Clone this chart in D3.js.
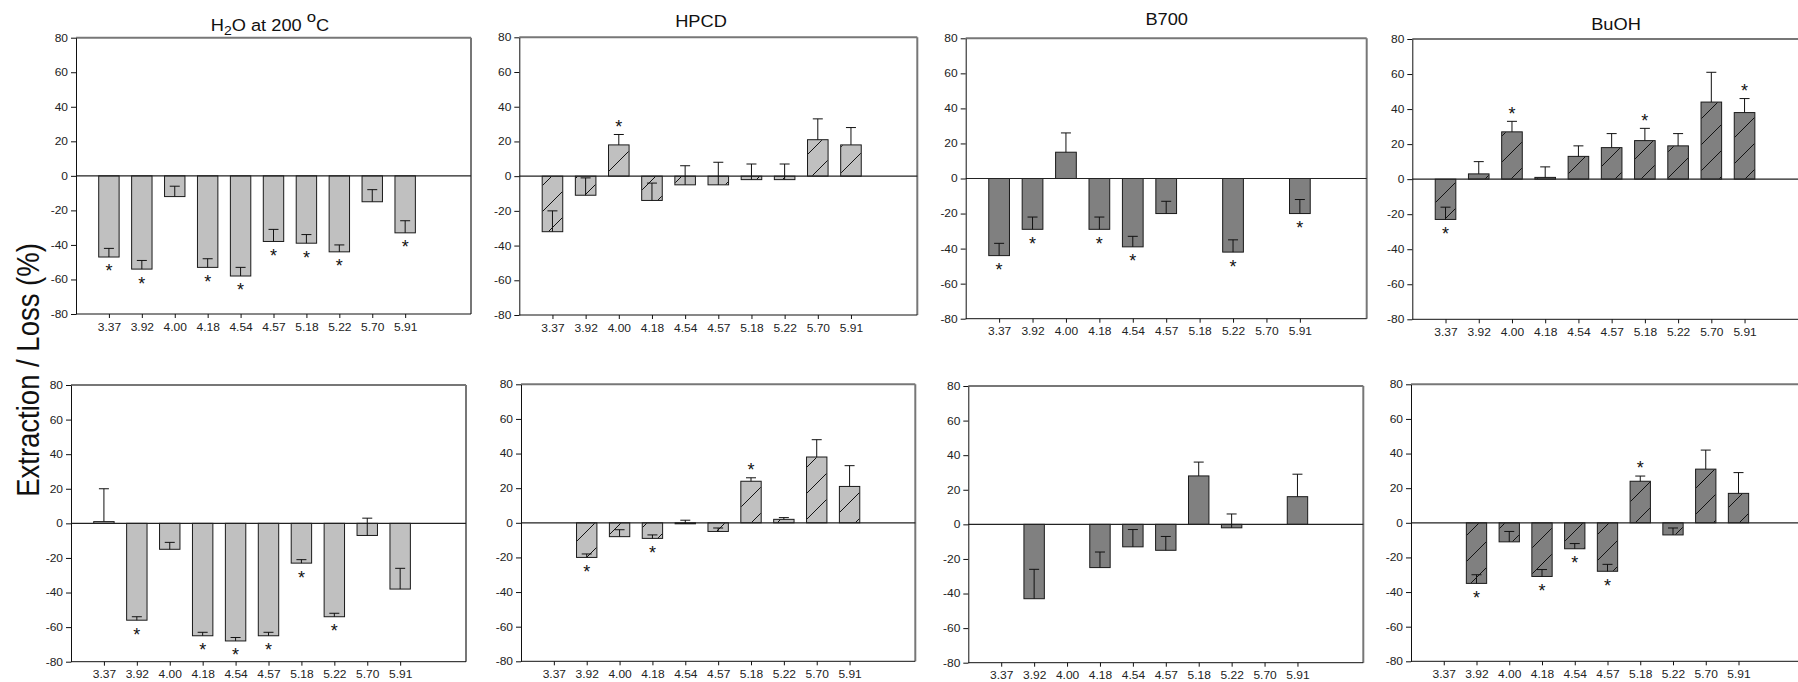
<!DOCTYPE html>
<html><head><meta charset="utf-8">
<script src="https://cdn.jsdelivr.net/npm/d3@7"></script>
<style>
body{margin:0;background:#fff;overflow:hidden;}
svg{display:block;font-family:"Liberation Sans",Arial,sans-serif;}
</style></head><body>
<svg id="chart" width="1798" height="682"></svg>
<script>
// ---------------- data ----------------
const categories = ["3.37","3.92","4.00","4.18","4.54","4.57","5.18","5.22","5.70","5.91"];
const yTicks = [-80,-60,-40,-20,0,20,40,60,80];
const titles = ["H2O at 200 oC","HPCD","B700","BuOH"];

// top row
const h2oTop     = [-47,-54,-12,-53,-58,-38,-39,-44,-15,-33];
const h2oTopErr  = [5,5,6,5,5,7,5,4,7,7];
const h2oTopSig  = [1,1,0,1,1,1,1,1,0,1];

const hpcdTop    = [-32,-11,18,-14,-5,-5,-2,-2,21,18];
const hpcdTopErr = [12,10,6,10,11,13,9,9,12,10];
const hpcdTopSig = [0,0,1,0,0,0,0,0,0,0];

const b700Top    = [-44,-29,15,-29,-39,-20,null,-42,null,-20];
const b700TopErr = [7,7,11,7,6,7,null,7,null,8];
const b700TopSig = [1,1,0,1,1,0,0,1,0,1];

const buohTop    = [-23,3,27,1,13,18,22,19,44,38];
const buohTopErr = [7,7,6,6,6,8,7,7,17,8];
const buohTopSig = [1,0,1,0,0,0,1,0,0,1];

// bottom row
const h2oBot     = [1,-56,-15,-65,-68,-65,-23,-54,-7,-38];
const h2oBotErr  = [19,2,4,2,2,2,2,2,10,12];
const h2oBotSig  = [0,1,0,1,1,1,1,1,0,0];

const hpcdBot    = [null,-20,-8,-9,-0.5,-5,24,2,38,21];
const hpcdBotErr = [null,2,4,2,2,2,2,1,10,12];
const hpcdBotSig = [0,1,0,1,0,0,1,0,0,0];

const b700Bot    = [null,-43,null,-25,-13,-15,28,-2,null,16];
const b700BotErr = [null,17,null,9,10,8,8,8,null,13];
const b700BotSig = [0,0,0,0,0,0,0,0,0,0];

const buohBot    = [null,-35,-11,-31,-15,-28,24,-7,31,17];
const buohBotErr = [null,5,6,4,3,4,3,4,11,12];
const buohBotSig = [0,1,0,1,1,1,1,0,0,0];

// ---------------- layout ----------------
const LIGHT = "#c0c0c0", DARK = "#808080";
const SX = 1.12; // horizontal stretch of the original's lettering
const panels = [
  {vals:h2oTop,  err:h2oTopErr,  sig:h2oTopSig,  fill:LIGHT, hatch:false, L:76,    R:471,    T:37.7, B:314,   title:0, tx:270,    ty:30.5},
  {vals:hpcdTop, err:hpcdTopErr, sig:hpcdTopSig, fill:LIGHT, hatch:true,  L:519.3, R:917.3,  T:37.3, B:315,   title:1, tx:701,    ty:26.5},
  {vals:b700Top, err:b700TopErr, sig:b700TopSig, fill:DARK,  hatch:false, L:965.7, R:1366.7, T:38.3, B:318.7, title:2, tx:1166.7, ty:25},
  {vals:buohTop, err:buohTopErr, sig:buohTopSig, fill:DARK,  hatch:true,  L:1412.3,R:1811,   T:39,   B:319.3, title:3, tx:1616,   ty:30},
  {vals:h2oBot,  err:h2oBotErr,  sig:h2oBotSig,  fill:LIGHT, hatch:false, L:71,    R:466,    T:385,  B:661.7},
  {vals:hpcdBot, err:hpcdBotErr, sig:hpcdBotSig, fill:LIGHT, hatch:true,  L:521,   R:915.3,  T:384.3,B:661.3},
  {vals:b700Bot, err:b700BotErr, sig:b700BotSig, fill:DARK,  hatch:false, L:968.3, R:1363.3, T:386,  B:662.7},
  {vals:buohBot, err:buohBotErr, sig:buohBotSig, fill:DARK,  hatch:true,  L:1411,  R:1804,   T:384.3,B:661.3}
];

const svg = d3.select("#chart");
const defs = svg.append("defs");
const HS = 26;
const pat = defs.append("pattern").attr("id","hatch")
  .attr("patternUnits","userSpaceOnUse").attr("width",HS).attr("height",HS);
pat.append("path").attr("d",`M0,${HS} L${HS},0 M-3,3 L3,-3 M${HS-3},${HS+3} L${HS+3},${HS-3}`)
  .attr("stroke","#111").attr("stroke-width",1);

const fmt = d => String(d);

panels.forEach(p => {
  const g = svg.append("g");
  const W = p.R - p.L;
  const step = W / 12;
  const x = d3.scalePoint().domain(categories).range([p.L + step, p.L + 10*step]);
  const y = d3.scaleLinear().domain([-80,80]).range([p.B, p.T]);
  const bw = step * 0.62;

  // frame: top & right grey
  g.append("line").attr("x1",p.L).attr("x2",p.R).attr("y1",p.T).attr("y2",p.T)
    .attr("stroke","#777").attr("stroke-width",2);
  g.append("line").attr("x1",p.R).attr("x2",p.R).attr("y1",p.T).attr("y2",p.B)
    .attr("stroke","#777").attr("stroke-width",2);

  const data = categories.map((c,i) => ({c, v:p.vals[i], e:p.err[i], s:p.sig[i]}))
    .filter(d => d.v !== null);

  g.selectAll("rect.bar").data(data).join("rect").attr("class","bar")
    .attr("x", d => x(d.c) - bw/2)
    .attr("y", d => Math.min(y(d.v), y(0)))
    .attr("width", bw)
    .attr("height", d => Math.max(1, Math.abs(y(d.v) - y(0))))
    .attr("fill", p.fill)
    .attr("stroke", "#1a1a1a").attr("stroke-width", 1);

  if (p.hatch) {
    g.selectAll("rect.hatch").data(data).join("rect").attr("class","hatch")
      .attr("x", d => x(d.c) - bw/2 + 0.5)
      .attr("y", d => Math.min(y(d.v), y(0)) + 0.5)
      .attr("width", bw - 1)
      .attr("height", d => Math.max(0, Math.abs(y(d.v) - y(0)) - 1))
      .attr("fill", "url(#hatch)");
  }

  // zero line
  g.append("line").attr("x1",p.L).attr("x2",p.R).attr("y1",y(0)).attr("y2",y(0))
    .attr("stroke","#222").attr("stroke-width",1.2);

  // error bars (upper only)
  const eb = g.selectAll("g.eb").data(data).join("g").attr("class","eb")
    .attr("stroke","#111").attr("stroke-width",1);
  eb.append("line").attr("x1", d => x(d.c)).attr("x2", d => x(d.c))
    .attr("y1", d => y(d.v)).attr("y2", d => y(d.v + d.e));
  eb.append("line").attr("x1", d => x(d.c) - 5).attr("x2", d => x(d.c) + 5)
    .attr("y1", d => y(d.v + d.e)).attr("y2", d => y(d.v + d.e));

  // stars
  const FS = 18;
  g.selectAll("text.star").data(data.filter(d => d.s)).join("text").attr("class","star")
    .attr("x", d => x(d.c))
    .attr("y", d => {
      const cy = d.v < 0 ? y(d.v) + 10 : y(d.v + d.e) - 12;
      return cy + 0.58 * FS;
    })
    .attr("text-anchor","middle").attr("font-size",FS).attr("fill","#111")
    .text("*");

  // y axis
  const ya = g.append("g").attr("transform",`translate(${p.L},0)`)
    .call(d3.axisLeft(y).tickValues(yTicks).tickFormat(fmt).tickSize(5).tickSizeOuter(0).tickPadding(3));
  ya.select(".domain").attr("stroke","#111");
  ya.selectAll(".tick line").attr("stroke","#111");
  ya.selectAll("text").attr("font-size",10.7).attr("fill","#222")
    .attr("font-family","Liberation Sans, Arial, sans-serif")
    .attr("transform",`scale(${SX},1)`).attr("x", -8 / SX);

  // x axis
  const xa = g.append("g").attr("transform",`translate(0,${p.B})`)
    .call(d3.axisBottom(x).tickSize(4).tickSizeOuter(0).tickPadding(5));
  xa.select(".domain").remove();
  xa.selectAll(".tick line").attr("stroke","#111");
  xa.selectAll("text").attr("font-size",10.7).attr("fill","#222")
    .attr("font-family","Liberation Sans, Arial, sans-serif")
    .attr("transform",`scale(${SX},1)`);
  g.append("line").attr("x1",p.L).attr("x2",p.R).attr("y1",p.B).attr("y2",p.B)
    .attr("stroke","#111").attr("stroke-width",1);

  // title
  if (p.title !== undefined) {
    const t = svg.append("text")
      .attr("transform",`translate(${p.tx},${p.ty}) scale(${SX},1)`)
      .attr("text-anchor","middle").attr("font-size",16.3).attr("fill","#111");
    if (p.title === 0) {
      t.append("tspan").text("H");
      t.append("tspan").attr("dy",4).attr("font-size",12.5).text("2");
      t.append("tspan").attr("dy",-4).text("O at 200 ");
      t.append("tspan").attr("dy",-9).attr("font-size",15).text("o");
      t.append("tspan").attr("dy",9).text("C");
    } else {
      t.text(titles[p.title]);
    }
  }
});

// global y label
svg.append("text")
  .attr("transform","translate(39,370) scale(1.12,1) rotate(-90)")
  .attr("text-anchor","middle")
  .attr("font-size",27.5).attr("fill","#111")
  .text("Extraction / Loss (%)");
</script>
</body></html>
